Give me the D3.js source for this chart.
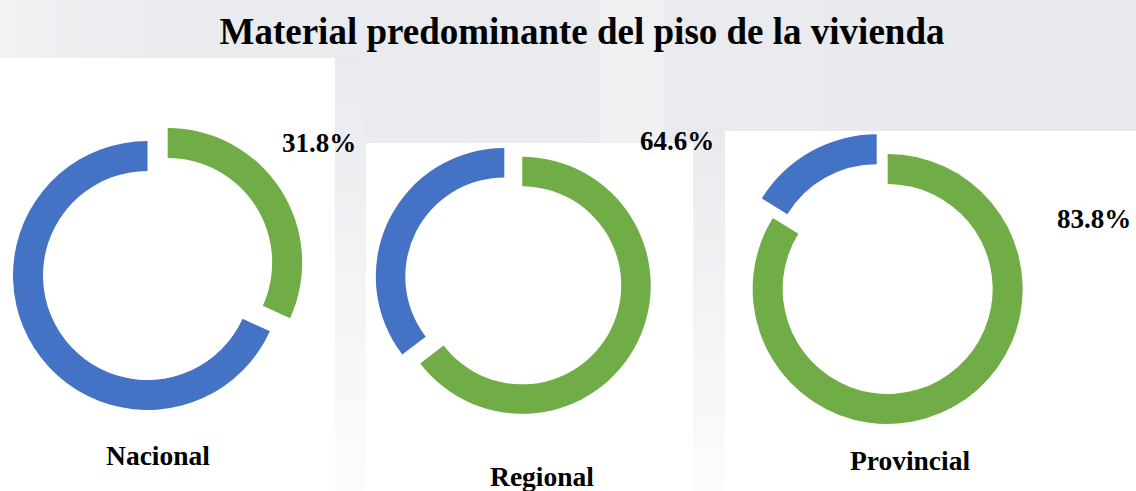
<!DOCTYPE html>
<html>
<head>
<meta charset="utf-8">
<script src="https://cdn.jsdelivr.net/npm/d3@7"></script>
<style>
  html, body { margin: 0; padding: 0; background: #ebedf0; }
  svg { display: block; }
  text { font-family: "Liberation Serif", "Times New Roman", serif; font-weight: bold; fill: #000; }
</style>
</head>
<body>
<div id="chart"></div>
<script>
/**
 * DATA
 * */
const title = "Material predominante del piso de la vivienda";
const categories = ["Nacional", "Regional", "Provincial"];
const greenValues = [31.8, 64.6, 83.8]; // shown share (labelled)
const blueValues = [68.2, 35.4, 16.2];  // remainder

const colors = { green: "#70AD47", blue: "#4472C4" };

/**
 * LAYOUT (one entry per donut)
 * */
const width = 1136,
  height = 491;

const layout = [
  { cx: 147.5, cy: 275.5, r: 134.5, r0: 104.5, explode: 24, pct: [282, 152], name: [158, 465] },
  { cx: 504.3, cy: 276.5, r: 128.5, r0: 99, explode: 20, pct: [640, 150], name: [542, 486] },
  { cx: 876.7, cy: 269.3, r: 135, r0: 105, explode: 22.5, pct: [1057, 228], name: [910, 470] }
];

// white panels behind each donut
const panels = [
  { x: 0, y: 58, w: 335, h: 433 },
  { x: 366, y: 143, w: 327, h: 348 },
  { x: 725, y: 131, w: 411, h: 360 }
];
// strips between panels fading out to white
const strips = [
  { x: 335, y: 58, w: 31, h: 433 },
  { x: 693, y: 131, w: 32, h: 360 }
];

const svg = d3.select("#chart")
  .append("svg")
  .attr("width", width)
  .attr("height", height);

// background
const defs = svg.append("defs");
const fade = defs.append("linearGradient")
  .attr("id", "fade")
  .attr("x1", 0).attr("x2", 0).attr("y1", 0).attr("y2", 1);
fade.append("stop").attr("offset", "0%").attr("stop-color", "#e8eaed");
fade.append("stop").attr("offset", "60%").attr("stop-color", "#f3f5f7");
fade.append("stop").attr("offset", "100%").attr("stop-color", "#fbfcfe");

const topBand = defs.append("linearGradient")
  .attr("id", "topband")
  .attr("x1", 0).attr("x2", 1).attr("y1", 0).attr("y2", 0);
topBand.append("stop").attr("offset", "0%").attr("stop-color", "#f1f2f4");
topBand.append("stop").attr("offset", "15%").attr("stop-color", "#e9ebee");
topBand.append("stop").attr("offset", "100%").attr("stop-color", "#e8eaed");

svg.append("rect")
  .attr("width", width)
  .attr("height", height)
  .attr("fill", "url(#topband)");

// faint lighter band in the watermark
svg.append("rect")
  .attr("x", 600).attr("y", 0)
  .attr("width", 64).attr("height", 143)
  .attr("fill", "#eff1f3");

svg.selectAll(".strip")
  .data(strips)
  .join("rect")
  .attr("class", "strip")
  .attr("x", d => d.x).attr("y", d => d.y)
  .attr("width", d => d.w).attr("height", d => d.h)
  .attr("fill", "url(#fade)");

svg.selectAll(".panel")
  .data(panels)
  .join("rect")
  .attr("class", "panel")
  .attr("x", d => d.x).attr("y", d => d.y)
  .attr("width", d => d.w).attr("height", d => d.h)
  .attr("fill", "#ffffff");

// title
svg.append("text")
  .attr("x", 582)
  .attr("y", 44)
  .attr("text-anchor", "middle")
  .style("font-size", "37px")
  .text(title);

/**
 * DONUTS
 * */
const pie = d3.pie()
  .sort(null)
  .value(d => d.value);

const fmt = d3.format(".1f");

categories.forEach((cat, i) => {
  const L = layout[i];
  const slices = pie([
    { key: "green", value: greenValues[i] },
    { key: "blue", value: blueValues[i] }
  ]);

  const arc = d3.arc().innerRadius(L.r0).outerRadius(L.r);

  const g = svg.append("g")
    .attr("class", "donut")
    .attr("transform", `translate(${L.cx},${L.cy})`);

  g.selectAll("path")
    .data(slices)
    .join("path")
    .attr("fill", d => colors[d.data.key])
    .attr("transform", d => {
      if (d.data.key !== "green") return null;
      // pull the green slice out along its bisector
      const mid = (d.startAngle + d.endAngle) / 2;
      return `translate(${L.explode * Math.sin(mid)},${-L.explode * Math.cos(mid)})`;
    })
    .attr("d", arc);

  // percentage label
  svg.append("text")
    .attr("x", L.pct[0])
    .attr("y", L.pct[1])
    .style("font-size", "27px")
    .text(fmt(greenValues[i]) + "%");

  // category label
  svg.append("text")
    .attr("x", L.name[0])
    .attr("y", L.name[1])
    .attr("text-anchor", "middle")
    .style("font-size", "27.5px")
    .text(cat);
});
</script>
</body>
</html>
